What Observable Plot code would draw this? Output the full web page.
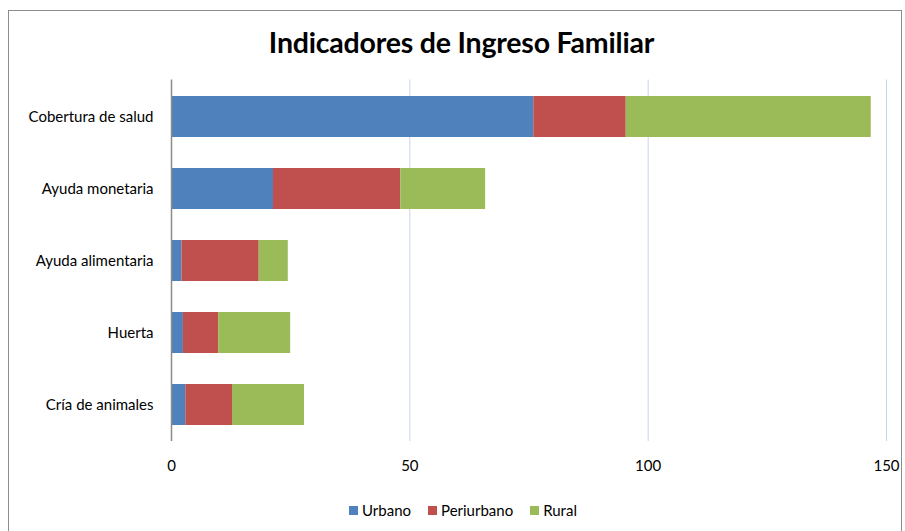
<!DOCTYPE html>
<html>
<head>
<meta charset="utf-8">
<script src="https://cdn.jsdelivr.net/npm/d3@7"></script>
<script src="https://cdn.jsdelivr.net/npm/@observablehq/plot@0.6"></script>
<style>
  html, body { margin: 0; padding: 0; background: #fff; }
  body { width: 905px; height: 531px; overflow: hidden; position: relative; font-family: Lato, "Open Sans", sans-serif; }
  #frame { position: absolute; left: 8px; top: 10px; width: 894px; height: 540px; border: 1px solid #8c8c8c; box-sizing: border-box; pointer-events: none; }
  #title { position: absolute; left: 0; top: 25px; width: 923px; text-align: center; font-size: 28.5px; font-weight: bold; color: #000; letter-spacing: -0.2px; }
  #chart { position: absolute; left: 0; top: 62px; }
  #legend { position: absolute; left: 0; top: 501px; width: 926px; display: flex; justify-content: center; gap: 17px; font-size: 15px; color: #000; }
  #legend span.sw { display: inline-block; width: 9px; height: 9px; margin-right: 4px; }
  #legend div { display: flex; align-items: center; }
</style>
</head>
<body>
<div id="frame"></div>
<div id="title">Indicadores de Ingreso Familiar</div>
<div id="chart"></div>
<div id="legend"></div>
<script>
const categories = ["Cobertura de salud", "Ayuda monetaria", "Ayuda alimentaria", "Huerta", "Cría de animales"];
const series = ["Urbano", "Periurbano", "Rural"];
const colors = ["#4f81bd", "#c0504d", "#9bbb59"];
const urbano = [76, 21.4, 2.2, 2.5, 3.0];
const periurbano = [19.4, 26.7, 16.2, 7.4, 9.8];
const rural = [51.4, 17.8, 6.1, 15.1, 15.1];
const xTicks = [0, 50, 100, 150];

const valuesBySeries = [urbano, periurbano, rural];
const data = [];
series.forEach((s, si) => {
  categories.forEach((c, ci) => data.push({category: c, series: s, value: valuesBySeries[si][ci]}));
});

const chart = Plot.plot({
  width: 905,
  height: 416,
  marginTop: 17.5,
  marginBottom: 37,
  marginLeft: 171,
  marginRight: 19,
  style: {fontFamily: "Lato, 'Open Sans', sans-serif", fontSize: "15px", color: "#000", background: "transparent"},
  x: {domain: [0, 150], ticks: xTicks},
  y: {domain: categories, paddingInner: 0.43, paddingOuter: 0.215},
  color: {domain: series, range: colors},
  marks: [
    Plot.ruleX(xTicks.slice(1), {stroke: "#c5d4ee", strokeWidth: 1}),
    Plot.barX(data, Plot.stackX({x: "value", y: "category", fill: "series", order: series, inset: 0})),
    Plot.ruleX([0], {stroke: "#8c8c8c", strokeWidth: 1.5}),
    Plot.axisX({ticks: xTicks, tickSize: 0, tickPadding: 19, fontSize: 15, label: null}),
    Plot.axisY({tickSize: 0, tickPadding: 18, fontSize: 15, label: null})
  ]
});
document.getElementById("chart").appendChild(chart);

const legend = document.getElementById("legend");
series.forEach((s, i) => {
  const item = document.createElement("div");
  const sw = document.createElement("span");
  sw.className = "sw";
  sw.style.background = colors[i];
  item.appendChild(sw);
  item.appendChild(document.createTextNode(s));
  legend.appendChild(item);
});
</script>
</body>
</html>
